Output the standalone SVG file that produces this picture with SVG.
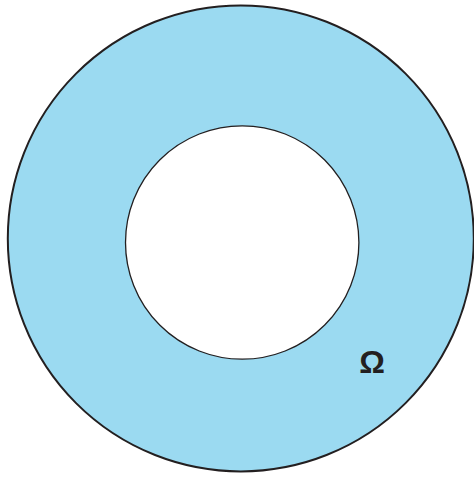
<svg xmlns="http://www.w3.org/2000/svg" width="474" height="477" viewBox="0 0 474 477">
<style>
.lbl{font-family:"Liberation Sans",Arial,sans-serif;font-weight:bold;fill:#231f20}
</style>
<rect width="474" height="477" fill="#ffffff"/>
<g id="domain">
<circle cx="240.8" cy="238.4" r="233" fill="#9bdaf1" stroke="#231f20" stroke-width="2"/>
<circle cx="242.2" cy="242.5" r="116.7" fill="#ffffff" stroke="#231f20" stroke-width="1.3"/>
<text class="lbl" x="372" y="373.3" font-size="32" text-anchor="middle">Ω</text>
</g>
</svg>
